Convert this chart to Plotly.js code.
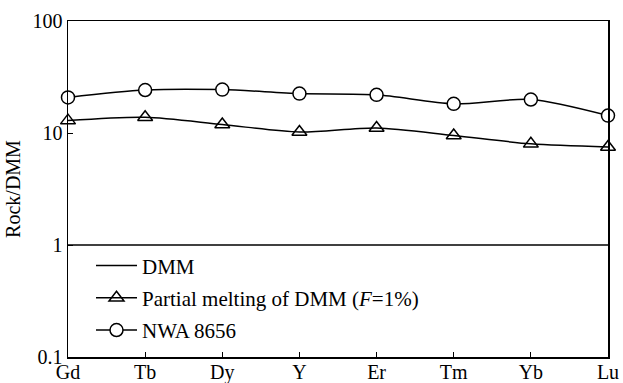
<!DOCTYPE html>
<html><head><meta charset="utf-8">
<script src="https://cdn.plot.ly/plotly-3.0.1.min.js"></script>
<style>html,body{margin:0;padding:0;background:#fff}</style>
</head><body><div id="chart" style="width:623px;height:383px"></div>
<script>
const elements = ["Gd","Tb","Dy","Y","Er","Tm","Yb","Lu"];
const dmm = [1,1,1,1,1,1,1,1];
const partialMelt = [12.9,13.8,11.9,10.2,11.1,9.5,8.0,7.5];
const nwa8656 = [20.8,24.2,24.4,22.5,21.9,18.2,19.9,14.3];
const yTickVals = [0.1,1,10,100];
const yTickText = ["0.1","1","10","100"];

const FAM = 'Liberation Serif';
const font = {family:FAM, color:"#000"};
const traces = [
  {x:elements, y:dmm, name:"DMM", legendgroup:"a", mode:"lines", line:{color:"#000", width:1.5}, cliponaxis:false},
  {x:elements, y:partialMelt, name:"Partial melting of DMM (<i>F</i>=1%)", legendgroup:"b", mode:"lines+markers",
   line:{color:"#000", width:1.5, shape:"spline", smoothing:0.8},
   marker:{symbol:"triangle-up-open", size:13, color:"#000", line:{width:1.5}}, cliponaxis:false},
  {x:elements, y:nwa8656, name:"NWA 8656", legendgroup:"c", mode:"lines+markers",
   line:{color:"#000", width:1.5, shape:"spline", smoothing:0.8},
   marker:{symbol:"circle", size:13, color:"#fff", line:{color:"#000", width:1.5}}, cliponaxis:false}
];
const layout = {
  width:623, height:383,
  margin:{l:68, r:15, t:21, b:26},
  paper_bgcolor:"#fff", plot_bgcolor:"#fff",
  font:Object.assign({size:20}, font),
  showlegend:true,
  legend:{x:0.0426, y:0.02, xanchor:"left", yanchor:"bottom", bgcolor:"rgba(0,0,0,0)",
          font:Object.assign({size:21}, font), tracegroupgap:2, itemwidth:41},
  xaxis:{type:"category", range:[0,7], showgrid:false, zeroline:false,
         showline:true, linecolor:"#000", linewidth:1.5, mirror:true,
         ticks:"inside", ticklen:5, tickcolor:"#000", tickwidth:1,
         ticklabelstandoff:-4,
         tickfont:Object.assign({size:20}, font)},
  yaxis:{type:"log", range:[-1,2], showgrid:false, zeroline:false,
         showline:true, linecolor:"#000", linewidth:1.5, mirror:true,
         ticks:"inside", ticklen:5, tickcolor:"#000", tickwidth:1,
         tickvals:yTickVals, ticktext:yTickText,
         tickfont:Object.assign({size:20}, font),
         title:{text:"Rock/DMM", font:Object.assign({size:20}, font), standoff:6}}
};
Plotly.newPlot("chart", traces, layout, {staticPlot:true, displayModeBar:false});
</script></body></html>
